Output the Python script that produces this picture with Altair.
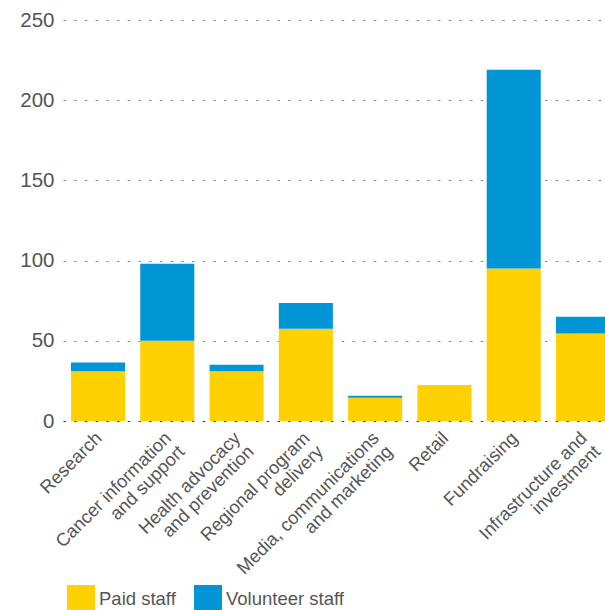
import altair as alt
import pandas as pd

categories = [
    "Research",
    "Cancer information|and support",
    "Health advocacy|and prevention",
    "Regional program|delivery",
    "Media, communications|and marketing",
    "Retail",
    "Fundraising",
    "Infrastructure and|investment",
]
paid_staff = [31, 50, 31, 57.5, 14.5, 22.5, 95, 54.5]
volunteer_staff = [5.5, 48, 4, 16, 1.3, 0, 124, 10.5]
series = ["Paid staff", "Volunteer staff"]
colors = ["#FFD100", "#0096D6"]
y_ticks = [0, 50, 100, 150, 200, 250]

rows = []
for c, p, v in zip(categories, paid_staff, volunteer_staff):
    rows.append({"category": c, "series": series[0], "value": p, "ord": 0})
    rows.append({"category": c, "series": series[1], "value": v, "ord": 1})
df = pd.DataFrame(rows)

FONT = "Liberation Sans"
TXT = "#555555"

chart = (
    alt.Chart(df)
    .mark_bar(clip=True)
    .encode(
        x=alt.X(
            "category:N",
            sort=categories,
            title=None,
            scale=alt.Scale(paddingInner=0.22, paddingOuter=0.115, range=[0, 555]),
            axis=alt.Axis(
                labelAngle=-45,
                labelAlign="right",
                labelBaseline="top",
                labelExpr="split(datum.label, '|')",
                labelFontSize=18.3,
                labelLineHeight=19,
                labelColor=TXT,
                labelFont=FONT,
                labelPadding=8,
                labelOffset=-5,
                ticks=False,
                domain=False,
                labelLimit=300,
            ),
        ),
        y=alt.Y(
            "value:Q",
            stack="zero",
            title=None,
            scale=alt.Scale(domain=[0, 250], nice=False),
            axis=alt.Axis(
                values=y_ticks,
                labelFontSize=20.5,
                labelColor=TXT,
                labelFont=FONT,
                labelPadding=9,
                ticks=False,
                tickSize=0,
                domain=False,
                grid=True,
                gridColor=alt.condition(
                    "datum.value === 0", alt.value("#444444"), alt.value("#8a8a8a")
                ),
                gridDash=[2.5, 8.2],
                gridWidth=1.2,
            ),
        ),
        color=alt.Color(
            "series:N",
            scale=alt.Scale(domain=series, range=colors),
            legend=alt.Legend(
                title=None,
                orient="none",
                direction="horizontal",
                legendX=4,
                legendY=565,
                symbolType="square",
                symbolSize=784,
                symbolStrokeWidth=0,
                labelFontSize=18.5,
                labelColor=TXT,
                labelFont=FONT,
                labelOffset=4,
                columnPadding=18,
                padding=0,
            ),
        ),
        order=alt.Order("ord:Q", sort="ascending"),
    )
    .properties(
        width=542,
        height=401,
        autosize=alt.AutoSizeParams(type="none"),
        padding={"left": 63, "top": 20, "right": 0, "bottom": 189},
    )
    .configure_view(stroke=None)
)

chart.save("out.html", embed_options={"renderer": "svg", "actions": False})
